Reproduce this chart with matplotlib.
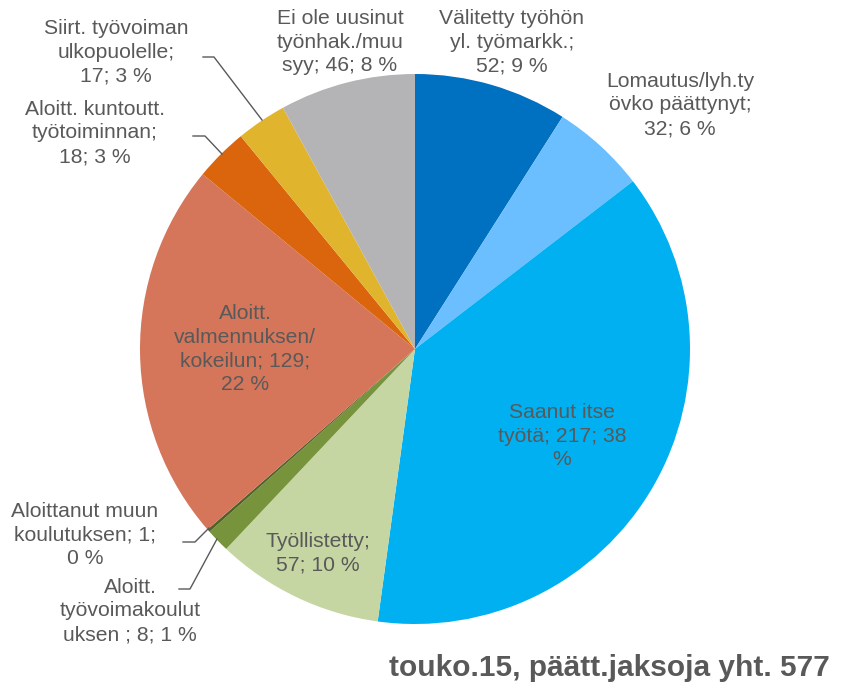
import matplotlib
matplotlib.use("Agg")
import matplotlib.pyplot as plt
import numpy as np

categories = ["Välitetty työhön\nyl. työmarkk.", "Lomautus/lyh.ty\növko päättynyt",
              "Saanut itse\ntyötä", "Työllistetty", "Aloitt.\ntyövoimakoulut\nuksen ",
              "Aloittanut muun\nkoulutuksen", "Aloitt.\nvalmennuksen/\nkokeilun",
              "Aloitt. kuntoutt.\ntyötoiminnan", "Siirt. työvoiman\nulkopuolelle",
              "Ei ole uusinut\ntyönhak./muu\nsyy"]
values = [52, 32, 217, 57, 8, 1, 129, 18, 17, 46]
percents = [9, 6, 38, 10, 1, 0, 22, 3, 3, 8]
label_texts = ["Välitetty työhön\nyl. työmarkk.;\n52; 9 %",
               "Lomautus/lyh.ty\növko päättynyt;\n32; 6 %",
               "Saanut itse\ntyötä; 217; 38\n%",
               "Työllistetty;\n57; 10 %",
               "Aloitt.\ntyövoimakoulut\nuksen ; 8; 1 %",
               "Aloittanut muun\nkoulutuksen; 1;\n0 %",
               "Aloitt.\nvalmennuksen/\nkokeilun; 129;\n22 %",
               "Aloitt. kuntoutt.\ntyötoiminnan;\n18; 3 %",
               "Siirt. työvoiman\nulkopuolelle;\n17; 3 %",
               "Ei ole uusinut\ntyönhak./muu\nsyy; 46; 8 %"]
colors = ["#0070C0", "#6BBFFF", "#00B0F0", "#C6D6A2", "#77933C", "#4F6228",
          "#D5765A", "#DA650D", "#E1B42E", "#B4B4B6"]
title = "touko.15, päätt.jaksoja yht. 577"

plt.rcParams['font.family'] = ['Liberation Sans', 'DejaVu Sans']
W, H = 850, 690
fig = plt.figure(figsize=(W / 100, H / 100), dpi=100)
ax = fig.add_axes([0, 0, 1, 1])

cx, cy, R = 415, H - 349, 275
ax.pie(values, colors=colors, startangle=90, counterclock=False,
       center=(cx, cy), radius=R, frame=True,
       wedgeprops=dict(linewidth=0))
ax.set_xlim(0, W)
ax.set_ylim(0, H)
ax.set_aspect('equal')
ax.axis('off')

tc = "#595959"
fs = 15.2
# label positions in pixel coords (from top)
pos = [(512, 42), (680, 105), (562, 436), (318, 553), (130, 611),
       (85, 535), (245, 349), (95, 133), (116, 52), (340, 42)]
for (x, y), t in zip(pos, label_texts):
    ax.text(x, H - y, t, ha='center', va='center', fontsize=fs, color=tc,
            linespacing=1.33)

# leader lines
leaders = [
    [(203, 57), (214, 57), (262, 120)],
    [(193, 136), (205, 136), (222, 154)],
    [(183, 542), (195, 542), (209, 528)],
    [(179, 589), (190, 589), (217, 539)],
]
for pts in leaders:
    xs = [p[0] for p in pts]
    ys = [H - p[1] for p in pts]
    ax.plot(xs, ys, color="#595959", lw=1.0)

ax.text(830, H - 668, title, ha='right', va='center', fontsize=21.5,
        fontweight='bold', color=tc)

fig.savefig("out.png", dpi=100)
